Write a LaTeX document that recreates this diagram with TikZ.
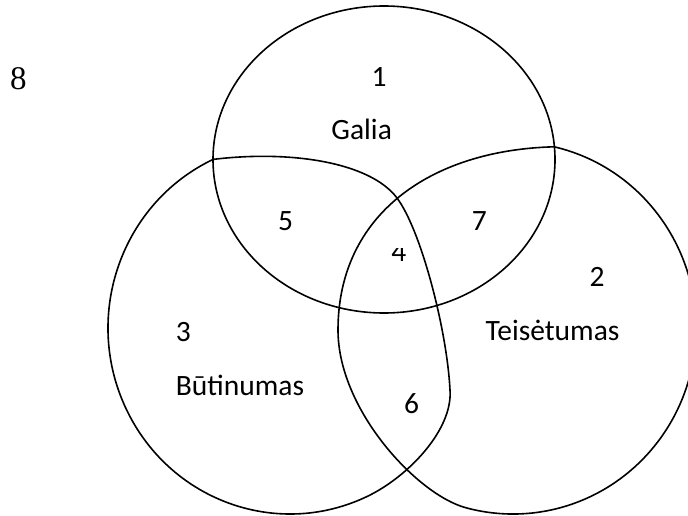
\documentclass[tikz,border=0pt]{standalone}
\usepackage{fontspec}
\setmainfont{Carlito}
\newfontfamily\serifeight{Liberation Serif}
\begin{document}
\begin{tikzpicture}[x=1pt,y=-1pt,
  setshape/.style={draw=black,line width=1.6pt},
  lbl/.style={inner sep=0pt,anchor=base,font=\fontsize{29.5}{35}\selectfont}]
\useasboundingbox (0,0) rectangle (688,516);
\begin{scope}
\clip (0,0) rectangle (688,516);
% Galia
\draw[setshape] (384,159.5) ellipse [x radius=171, y radius=153.5];
% Teisetumas (right)
\draw[setshape] (554.2,146.8) arc[start angle=-77, end angle=105, x radius=183, y radius=186]
  .. controls (417.4,494.6) and (338,410) .. (338,330)
  .. controls (338,215) and (430,150) .. (554.2,146.8) -- cycle;
% Butinumas (left)
\draw[setshape] (213.1,159.4) arc[start angle=245, end angle=65, x radius=182, y radius=186]
  .. controls (407.5,477.3) and (453,430) .. (450,390)
  .. controls (447,330) and (421,230) .. (397,198)
  .. controls (370,162) and (290,150) .. (213.1,159.4) -- cycle;
\end{scope}
% labels
\node[lbl] (n1) at (379,86.7) {1};
\node[lbl] (galia) at (361.7,140) {Galia};
\node[lbl] (n5) at (285.7,230) {5};
\node[lbl] (n7) at (479.3,230) {7};
\begin{scope}
\clip (370,248) rectangle (430,275);
\node[lbl] (n4) at (398.8,261) {4};
\end{scope}
\node[lbl] (n2) at (597,286.7) {2};
\node[lbl] (teis) at (552.5,340.7) {Teisėtumas};
\node[lbl] (n3) at (183.3,341) {3};
\node[lbl] (but) at (240,395) {Būtinumas};
\node[lbl] (n6) at (411.7,413.3) {6};
\node[inner sep=0pt,anchor=base,font=\serifeight\fontsize{33}{38}\selectfont] (n8) at (18.3,89.3) {8};
\end{tikzpicture}
\end{document}
